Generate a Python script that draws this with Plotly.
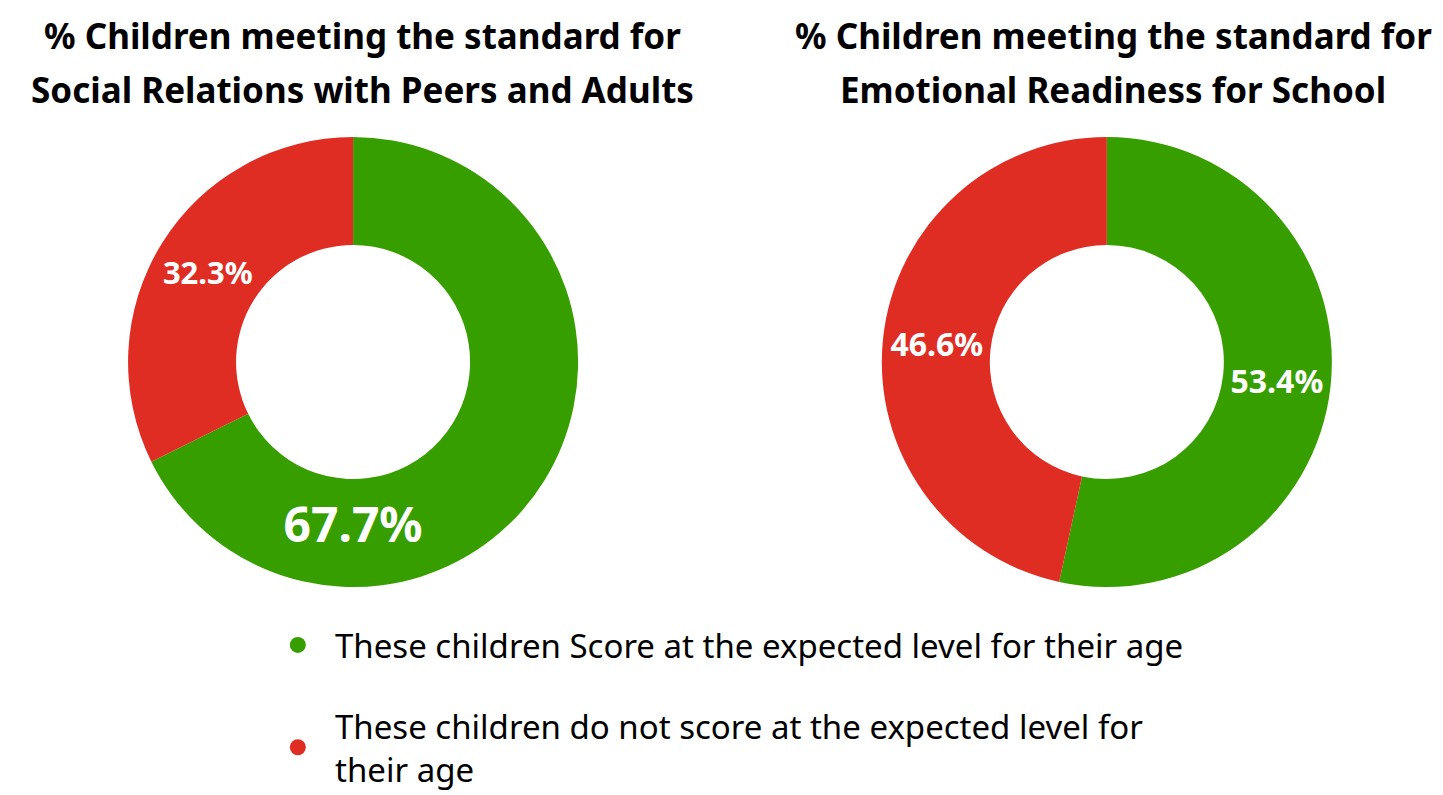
import plotly.graph_objects as go

# data
labels = ["These children Score at the expected level for their age",
          "These children do not score at the expected level for<br>their age"]
social_relations = [67.7, 32.3]
emotional_readiness = [53.4, 46.6]
title_lines = [
    ["% Children meeting the standard for", "Social Relations with Peers and Adults"],
    ["% Children meeting the standard for", "Emotional Readiness for School"],
]
colors = ["#379E00", "#E02D23"]

FONT = "Noto Sans"
NB = "\u00a0\u00a0"

fig = go.Figure()

fig.add_trace(go.Pie(
    values=social_relations, labels=labels, hole=0.52, sort=False,
    direction="clockwise", rotation=0,
    marker=dict(colors=colors),
    texttemplate="%{value:.1f}%", textposition="inside",
    textfont=dict(family=FONT, color="white", size=[48, 31], weight="bold"),
    insidetextorientation="horizontal",
    domain=dict(x=[0.0832, 0.3951], y=[0.2716, 0.8377]),
    showlegend=False, hoverinfo="label+percent",
))
fig.add_trace(go.Pie(
    values=emotional_readiness, labels=labels, hole=0.52, sort=False,
    direction="clockwise", rotation=0,
    marker=dict(colors=colors),
    texttemplate="%{value:.1f}%", textposition="inside",
    textfont=dict(family=FONT, color="white", size=[32, 32], weight="bold"),
    insidetextorientation="horizontal",
    domain=dict(x=[0.6055, 0.9175], y=[0.2716, 0.8377]),
    showlegend=False, hoverinfo="label+percent",
))

# legend entries with round markers
for i, (lab, col) in enumerate(zip(labels, colors)):
    fig.add_trace(go.Scatter(
        x=[None], y=[None], mode="markers",
        name=NB + lab.replace("<br>", "<br>" + NB),
        legendgroup=f"g{i}",
        marker=dict(color=col, size=22, symbol="circle"),
    ))

centers = [0.2454, 0.7658]
for cx, lines in zip(centers, title_lines):
    # first line hangs from the top edge, second line sits below it
    fig.add_annotation(
        text=lines[0], x=cx, y=0.997, xref="paper", yref="paper",
        xanchor="center", yanchor="top", showarrow=False,
        font=dict(family=FONT, size=35, color="black", weight="bold"),
    )
    fig.add_annotation(
        text=lines[1], x=cx, y=0.898, xref="paper", yref="paper",
        xanchor="center", yanchor="middle", showarrow=False,
        font=dict(family=FONT, size=35, color="black", weight="bold"),
    )

fig.update_layout(
    width=1443, height=795,
    margin=dict(l=0, r=0, t=0, b=0),
    paper_bgcolor="white", plot_bgcolor="white",
    font=dict(family=FONT, color="black"),
    xaxis=dict(visible=False), yaxis=dict(visible=False),
    legend=dict(
        x=0.187, y=0.234, xanchor="left", yanchor="top",
        font=dict(family=FONT, size=33, color="black"),
        itemsizing="trace", tracegroupgap=35,
    ),
)

fig.write_html("out.html")
